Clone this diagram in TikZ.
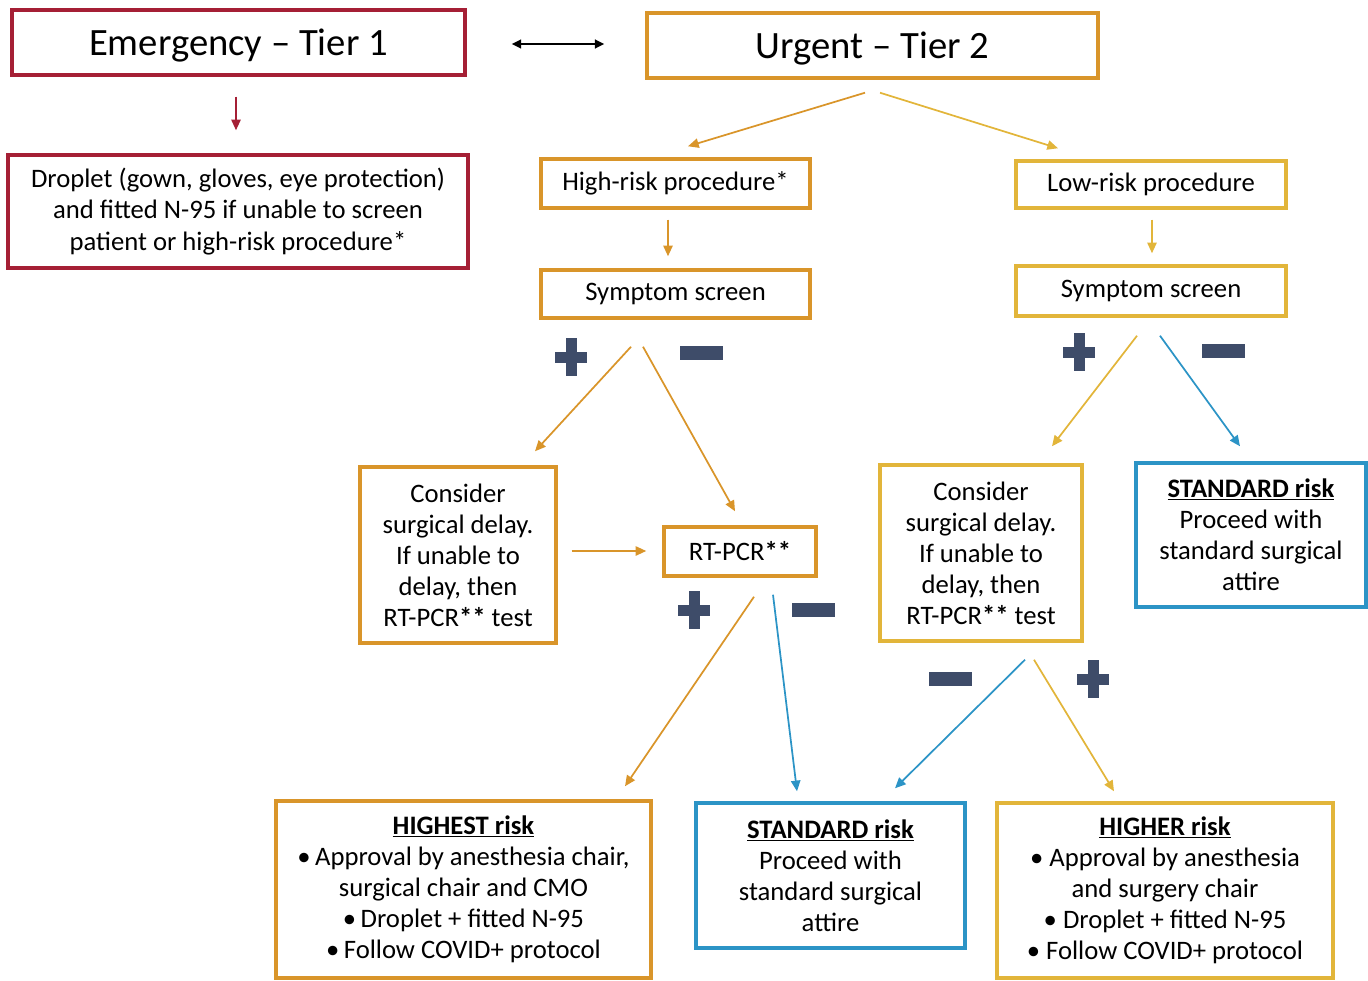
\documentclass[tikz,border=0pt]{standalone}
\usepackage{fontspec}
\setmainfont{Carlito}
\usetikzlibrary{arrows.meta,calc}
\definecolor{tierred}{HTML}{A51F35}
\definecolor{tierorange}{HTML}{D9952A}
\definecolor{tieryellow}{HTML}{E2B53A}
\definecolor{tierblue}{HTML}{2C94C6}
\definecolor{signgray}{HTML}{3E4C69}

\tikzset{
  box/.style={draw=#1, line width=2.6pt, align=center, inner sep=2pt, font=\fontsize{20}{23.3}\selectfont},
  boxsize/.style 2 args={minimum width=#1*0.75pt, minimum height=#2*0.75pt},
  titlefont/.style={font=\fontsize{29}{34}\selectfont, text depth=0pt},
  arr/.style={draw=#1, line width=1.3pt, -{Triangle[length=8pt,width=7pt]}},
  plusmark/.pic={\fill[signgray] (-16,-5.5) rectangle (16,5.5); \fill[signgray] (-5.5,-19) rectangle (5.5,19);},
  minusmark/.pic={\fill[signgray] (-21.5,-7) rectangle (21.5,7);}
}

\begin{document}
\begin{tikzpicture}[x=0.75pt,y=0.75pt,yscale=-1,xscale=1]
\useasboundingbox (0,0) rectangle (1368,981);

% Tier boxes
\node[box=tierred, boxsize={453}{65}, titlefont] (tier1) at (238.5,42.5) {Emergency -- Tier 1};
\node[box=tierorange, boxsize={451}{65}, titlefont] (tier2) at (872.5,45.5) {Urgent -- Tier 2};
% Text Node
\node[box=tierred, boxsize={460}{113}] (drop) at (238,211.5) {Droplet (gown, gloves, eye protection)\\ and fitted N-95 if unable to screen\\ patient or high-risk procedure*};
% Text Node
\node[box=tierorange, boxsize={269}{49}] (high) at (675.5,183.5) {High-risk procedure*};
\node[box=tieryellow, boxsize={270}{47}] (low) at (1151,184.5) {Low-risk procedure};
% Text Node
\node[box=tierorange, boxsize={269}{48}] (symL) at (675.5,294) {Symptom screen};
\node[box=tieryellow, boxsize={270}{50}] (symR) at (1151,291) {Symptom screen};
% Text Node
\node[box=tierorange, boxsize={196}{176}] (consL) at (458,555) {Consider\\ surgical delay.\\ If unable to\\ delay, then\\ RT-PCR\textbf{**} test};
\node[box=tierorange, boxsize={152}{49}] (rtpcr) at (740,551.5) {RT-PCR\textbf{**}};
\node[box=tieryellow, boxsize={202}{176}] (consR) at (981,553) {Consider\\ surgical delay.\\ If unable to\\ delay, then\\ RT-PCR\textbf{**} test};
\node[box=tierblue, boxsize={230}{144}] (stdR) at (1251,535) {\underline{\textbf{STANDARD risk}}\\ Proceed with\\ standard surgical\\ attire};
% Text Node
\node[box=tierorange, boxsize={375}{177}] (highest) at (463.5,889.5) {\underline{\textbf{HIGHEST risk}}\\ •\,Approval by anesthesia chair,\\ surgical chair and CMO\\ •\,Droplet + fitted N-95\\ •\,Follow COVID+ protocol};
\node[box=tierblue, boxsize={269}{145}] (stdB) at (830.5,875.5) {\underline{\textbf{STANDARD risk}}\\ Proceed with\\ standard surgical\\ attire};
\node[box=tieryellow, boxsize={336}{175}] (higher) at (1165,890.5) {\underline{\textbf{HIGHER risk}}\\ • Approval by anesthesia\\ and surgery chair\\ • Droplet + fitted N-95\\ • Follow COVID+ protocol};

% Arrows
\draw[line width=1.6pt, {Triangle[length=7pt,width=6.5pt]}-{Triangle[length=7pt,width=6.5pt]}] ($(tier1.east)+(45,1.5)$) -- ($(tier2.west)+(-41,-1.5)$);
\draw[arr=tierred] ($(tier1.south)+(-2.5,20)$) -- ($(drop.north)+(-2,-23)$);
\draw[arr=tierorange] ($(tier2.south)+(-7.5,13)$) -- ($(high.north)+(12.5,-11)$);
\draw[arr=tieryellow] ($(tier2.south)+(7.5,13)$) -- ($(low.north)+(-93,-11)$);
\draw[arr=tierorange] ($(high.south)+(-7.5,10)$) -- ($(symL.north)+(-7.5,-12)$);
\draw[arr=tieryellow] ($(low.south)+(1,10)$) -- ($(symR.north)+(1,-11)$);
\draw[arr=tierorange] ($(symL.south)+(-44.5,27)$) -- ($(consL.north)+(77,-14)$);
\draw[arr=tierorange] ($(symL.south)+(-32.5,27)$) -- ($(rtpcr.north)+(-5,-14)$);
\draw[arr=tierorange] ($(consL.east)+(14,-4)$) -- ($(rtpcr.west)+(-16,-0.5)$);
\draw[arr=tierorange] ($(rtpcr.south)+(14,19)$) -- ($(highest.north)+(161.5,-13)$);
\draw[arr=tierblue] ($(rtpcr.south)+(33,17)$) -- ($(stdB.north)+(-33.5,-10)$);
\draw[arr=tieryellow] ($(symR.south)+(-14,18)$) -- ($(consR.north)+(71,-17)$);
\draw[arr=tierblue] ($(symR.south)+(9,18)$) -- ($(stdR.north)+(-11,-15)$);
\draw[arr=tierblue] ($(consR.south)+(44,17)$) -- ($(stdB.north)+(64.5,-13)$);
\draw[arr=tieryellow] ($(consR.south)+(53,17)$) -- ($(higher.north)+(-51,-10)$);

% Signs
\pic at (571,357) {plusmark};
\pic at (701,353) {minusmark};
\pic at (1079,352) {plusmark};
\pic at (1223,351) {minusmark};
\pic at (694,610) {plusmark};
\pic at (813,610) {minusmark};
\pic at (950,679) {minusmark};
\pic at (1093,679) {plusmark};
\end{tikzpicture}
\end{document}
